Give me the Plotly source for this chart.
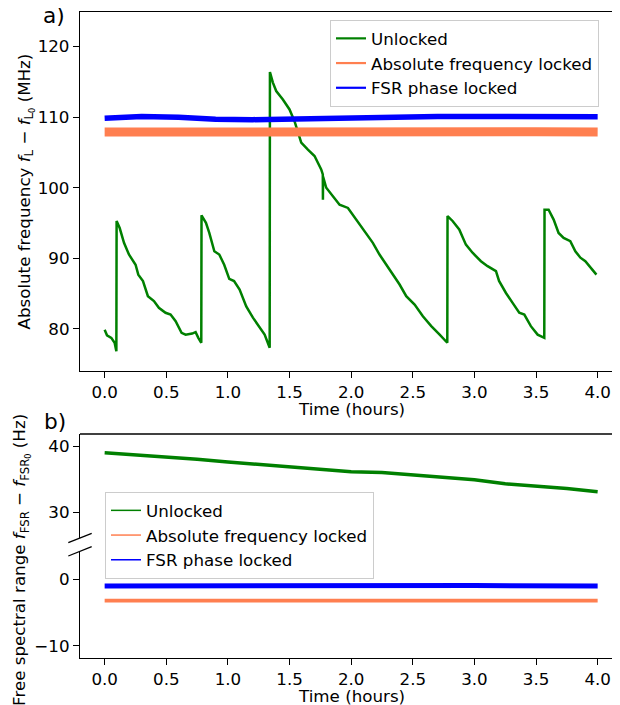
import plotly.graph_objects as go

# ---------------- data ----------------
# Panel a) absolute frequency f_L - f_L0 (MHz) vs time (hours)
t_unlocked_a = [0.000, 0.019, 0.054, 0.081, 0.095, 0.097, 0.122, 0.157, 0.197, 0.251,
                0.273, 0.311, 0.351, 0.400, 0.440, 0.494, 0.535, 0.576, 0.624, 0.657,
                0.710, 0.738, 0.760, 0.784, 0.786, 0.822, 0.849, 0.890, 0.930, 0.970,
                1.011, 1.050, 1.095, 1.149, 1.203, 1.257, 1.298, 1.339, 1.341, 1.365,
                1.392, 1.446, 1.500, 1.541, 1.595, 1.649, 1.703, 1.757, 1.770, 1.771,
                1.772, 1.798, 1.865, 1.906, 1.974, 2.040, 2.095, 2.176, 2.230, 2.285,
                2.352, 2.393, 2.447, 2.515, 2.582, 2.650, 2.718, 2.780, 2.782, 2.823,
                2.877, 2.931, 2.985, 3.053, 3.107, 3.175, 3.200, 3.256, 3.310, 3.364,
                3.405, 3.458, 3.513, 3.567, 3.569, 3.602, 3.643, 3.683, 3.724, 3.778,
                3.819, 3.860, 3.900, 3.955, 3.990]
f_unlocked_a = [79.9, 79.1, 78.75, 78.05, 76.85, 95.3, 94.3, 92.2, 90.55, 89.1,
                87.7, 86.8, 84.65, 83.95, 83.0, 82.3, 82.05, 81.1, 79.45, 79.2,
                79.35, 79.55, 78.75, 78.05, 96.1, 95.05, 93.6, 91.0, 90.55, 89.1,
                87.1, 86.8, 85.6, 83.2, 81.6, 80.2, 79.2, 77.35, 116.4, 114.9,
                113.7, 112.5, 111.1, 109.4, 106.4, 105.4, 104.5, 102.6, 101.9, 98.3,
                101.6, 100.0, 98.6, 97.6, 97.15, 95.5, 94.3, 92.2, 90.55, 89.1,
                87.5, 86.3, 84.65, 83.45, 81.8, 80.4, 79.2, 78.05, 96.0, 95.3,
                94.1, 91.95, 90.8, 89.6, 88.9, 88.2, 86.8, 85.1, 83.7, 82.3,
                82.05, 80.4, 79.2, 78.75, 96.9, 96.9, 95.5, 93.6, 92.9, 92.45,
                91.0, 90.1, 89.6, 88.4, 87.7]

t_abs_a = [0.0, 0.5, 1.0, 1.5, 2.0, 2.5, 3.0, 3.5, 4.0]
f_abs_a = [107.9, 107.95, 107.9, 107.95, 107.9, 107.95, 107.9, 107.95, 107.9]

t_fsr_a = [0.0, 0.3, 0.6, 0.9, 1.2, 1.5, 1.8, 2.1, 2.4, 2.7, 3.0, 3.3, 3.6, 3.9, 4.0]
f_fsr_a = [109.85, 110.1, 110.0, 109.7, 109.65, 109.75, 109.9, 110.0, 110.05, 110.1,
           110.1, 110.05, 110.05, 110.05, 110.05]

# Panel b) free spectral range f_FSR - f_FSR0 (Hz) vs time (hours)
t_unlocked_b = [0.0, 0.25, 0.5, 0.75, 1.0, 1.25, 1.5, 1.75, 2.0, 2.25, 2.5, 2.75,
                3.0, 3.25, 3.5, 3.75, 4.0]
f_unlocked_b = [39.0, 38.7, 38.3, 38.0, 37.6, 37.2, 36.8, 36.4, 36.1, 36.0, 35.6, 35.2,
                34.9, 34.3, 34.0, 33.6, 33.1]

t_abs_b = [0.0, 1.0, 2.0, 3.0, 4.0]
f_abs_b = [-3.2, -3.2, -3.2, -3.2, -3.2]

t_fsr_b = [0.0, 1.0, 2.0, 3.0, 4.0]
f_fsr_b = [-1.0, -0.95, -1.0, -0.95, -1.0]

series_names = ["Unlocked", "Absolute frequency locked", "FSR phase locked"]
colors = ["green", "coral", "blue"]

x_ticks = [0.0, 0.5, 1.0, 1.5, 2.0, 2.5, 3.0, 3.5, 4.0]
ya_ticks = [80, 90, 100, 110, 120]
yb_upper_ticks = [30, 40]
yb_lower_ticks = [-10, 0]

# ---------------- layout helpers ----------------
# the page body has an 8px margin, so the figure is 8px smaller than the window
W, H = 612, 697
L, R, T, B = 72, 0, 4, 47
PW, PH = W - L - R, H - T - B


def px(xp):  # window pixel x -> paper fraction
    return (xp - 8 - L) / PW


def py(yp):  # window pixel y -> paper fraction
    return (H - B - (yp - 8)) / PH


FONT = "DejaVu Sans"
FS = 16.7

fig = go.Figure()

# Panel a traces
fig.add_trace(go.Scatter(x=t_unlocked_a, y=f_unlocked_a, mode="lines",
                         line=dict(color=colors[0], width=2.5), showlegend=False,
                         xaxis="x", yaxis="y"))
fig.add_trace(go.Scatter(x=t_abs_a, y=f_abs_a, mode="lines",
                         line=dict(color=colors[1], width=9), showlegend=False,
                         xaxis="x", yaxis="y"))
fig.add_trace(go.Scatter(x=t_fsr_a, y=f_fsr_a, mode="lines",
                         line=dict(color=colors[2], width=5.5), showlegend=False,
                         xaxis="x", yaxis="y"))

# Panel b traces
fig.add_trace(go.Scatter(x=t_unlocked_b, y=f_unlocked_b, mode="lines",
                         line=dict(color=colors[0], width=3.5), showlegend=False,
                         xaxis="x2", yaxis="y2"))
fig.add_trace(go.Scatter(x=t_abs_b, y=f_abs_b, mode="lines",
                         line=dict(color=colors[1], width=3.7), showlegend=False,
                         xaxis="x2", yaxis="y3"))
fig.add_trace(go.Scatter(x=t_fsr_b, y=f_fsr_b, mode="lines",
                         line=dict(color=colors[2], width=5), showlegend=False,
                         xaxis="x2", yaxis="y3"))

# legend entries
for name, c in zip(series_names, colors):
    fig.add_trace(go.Scatter(x=[None], y=[None], mode="lines", name=name,
                             line=dict(color=c, width=2.2), xaxis="x", yaxis="y",
                             legend="legend"))
for name, c in zip(series_names, colors):
    fig.add_trace(go.Scatter(x=[None], y=[None], mode="lines", name=name,
                             line=dict(color=c, width=1.5), xaxis="x2", yaxis="y3",
                             legend="legend2"))

axis_common = dict(showline=True, linecolor="black", linewidth=1.3, ticks="outside",
                   ticklen=6, tickwidth=1.3, tickcolor="black", showgrid=False,
                   zeroline=False, tickfont=dict(family=FONT, size=FS, color="black"))

xr = [-0.2, -0.2 + PW / 123.25]

fig.update_layout(
    width=W, height=H,
    margin=dict(l=L, r=R, t=T, b=B, pad=0, autoexpand=False),
    paper_bgcolor="white", plot_bgcolor="white",
    font=dict(family=FONT, size=FS, color="black"),
    xaxis=dict(domain=[0, 1], anchor="y", range=xr, tickvals=x_ticks, tickformat=".1f",
               mirror=True, **axis_common),
    yaxis=dict(domain=[py(371), 1], anchor="x", range=[74.05, 124.9], tickvals=ya_ticks,
               **axis_common),
    xaxis2=dict(domain=[0, 1], anchor="y3", range=xr, tickvals=x_ticks, tickformat=".1f",
                **axis_common),
    yaxis2=dict(domain=[py(538), py(434)], anchor="x2", range=[26.12, 41.81],
                tickvals=yb_upper_ticks, **axis_common),
    yaxis3=dict(domain=[0, py(551)], anchor="x2", range=[-11.85, 4.26],
                tickvals=yb_lower_ticks, **axis_common),
    legend=dict(x=px(330), y=py(20), xanchor="left", yanchor="top",
                bgcolor="rgba(255,255,255,0.8)", bordercolor="#cccccc", borderwidth=1,
                font=dict(family=FONT, size=FS, color="black"), tracegroupgap=0),
    legend2=dict(x=px(105), y=py(492), xanchor="left", yanchor="top",
                 bgcolor="rgba(255,255,255,0.8)", bordercolor="#cccccc", borderwidth=1,
                 font=dict(family=FONT, size=FS, color="black"), tracegroupgap=0),
    showlegend=True,
)

# top spine of panel b and the axis-break marks
shapes = [
    dict(type="line", xref="paper", yref="paper", x0=0, x1=1, y0=py(434), y1=py(434),
         line=dict(color="black", width=1.3)),
    dict(type="line", xref="paper", yref="paper", x0=px(68.3), x1=px(91.7),
         y0=py(542.7), y1=py(533.3), line=dict(color="black", width=1.3)),
    dict(type="line", xref="paper", yref="paper", x0=px(68.3), x1=px(91.7),
         y0=py(556), y1=py(546.7), line=dict(color="black", width=1.3)),
]
fig.update_layout(shapes=shapes)

annotations = [
    dict(text="Time (hours)", x=px(351), y=py(409), xref="paper", yref="paper",
         showarrow=False, xanchor="center", yanchor="middle",
         font=dict(family=FONT, size=FS, color="black")),
    dict(text="Time (hours)", x=px(351), y=py(696), xref="paper", yref="paper",
         showarrow=False, xanchor="center", yanchor="middle",
         font=dict(family=FONT, size=FS, color="black")),
    dict(text="Absolute frequency <i>f</i><sub>L</sub> − <i>f</i><sub>L<sub>0</sub></sub> (MHz)",
         x=px(25), y=py(191.5), xref="paper", yref="paper", textangle=-90,
         showarrow=False, xanchor="center", yanchor="middle",
         font=dict(family=FONT, size=FS, color="black")),
    dict(text="Free spectral range <i>f</i><sub>FSR</sub> − <i>f</i><sub>FSR<sub>0</sub></sub> (Hz)",
         x=px(21), y=py(560), xref="paper", yref="paper", textangle=-90,
         showarrow=False, xanchor="center", yanchor="middle",
         font=dict(family=FONT, size=FS, color="black")),
    dict(text="a)", x=px(54), y=py(15), xref="paper", yref="paper",
         showarrow=False, xanchor="center", yanchor="middle",
         font=dict(family=FONT, size=21.7, color="black")),
    dict(text="b)", x=px(55), y=py(421), xref="paper", yref="paper",
         showarrow=False, xanchor="center", yanchor="middle",
         font=dict(family=FONT, size=21.7, color="black")),
]
fig.update_layout(annotations=annotations)

fig.write_html("out.html")
